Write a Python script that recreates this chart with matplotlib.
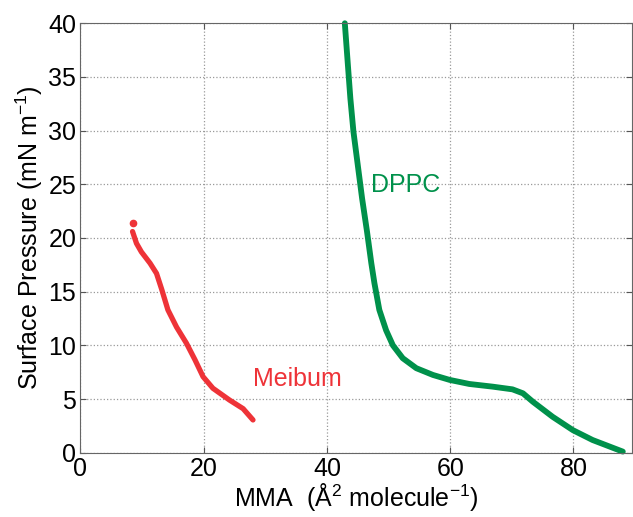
import matplotlib
matplotlib.use("Agg")
import matplotlib.pyplot as plt

plt.rcParams["font.family"] = ["Liberation Sans", "DejaVu Sans"]
plt.rcParams["mathtext.fontset"] = "custom"
plt.rcParams["mathtext.rm"] = "Liberation Sans"

# isotherm data
meibum_mma = [8.46, 9.1, 9.9, 11.3, 12.35, 13.2, 14.2, 15.6, 17.2, 18.6,
              19.9, 21.5, 24.2, 26.4, 28.0]
meibum_pi = [20.6, 19.5, 18.7, 17.65, 16.7, 15.2, 13.3, 11.7, 10.2, 8.64,
             7.08, 6.0, 4.9, 4.1, 3.05]
meibum_dot = (8.5, 21.4)

dppc_mma = [42.9, 43.4, 43.8, 44.3, 45.0, 45.7, 46.5, 47.2, 47.7, 48.5,
            49.6, 50.7, 52.3, 54.5, 57.2, 59.9, 63.1, 66.9, 70.1, 71.8,
            73.4, 76.6, 79.9, 83.1, 88.0]
dppc_pi = [40.0, 36.1, 33.0, 29.9, 26.8, 23.7, 20.6, 17.65, 15.8, 13.3,
           11.4, 10.0, 8.8, 7.87, 7.24, 6.78, 6.4, 6.15, 5.9, 5.53,
           4.75, 3.35, 2.1, 1.18, 0.1]

red = "#ee3338"
green = "#00914b"

fig = plt.figure(figsize=(6.33, 5.17), dpi=100)
ax = fig.add_axes([0.127, 0.1244, 0.8715, 0.8306])

ax.plot(meibum_mma, meibum_pi, color=red, lw=3.8, solid_capstyle="round",
        solid_joinstyle="round")
ax.plot([meibum_dot[0]], [meibum_dot[1]], "o", color=red, ms=4.5)
ax.plot(dppc_mma, dppc_pi, color=green, lw=4.2, solid_capstyle="round",
        solid_joinstyle="round", clip_on=False)

ax.text(47.2, 24.9, "DPPC", color=green, fontsize=18, va="center")
ax.text(28.0, 6.9, "Meibum", color=red, fontsize=18, va="center")

ax.set_xlim(0, 89.5)
ax.set_ylim(0, 40)
ax.set_xticks([0, 20, 40, 60, 80])
ax.set_yticks(range(0, 41, 5))
ax.grid(True, linestyle=":", color="#999999", lw=0.9)
ax.tick_params(direction="in", top=True, right=True, labelsize=18, length=4,
               color="#555555", pad=3)
for s in ax.spines.values():
    s.set_color("#666666")

ax.set_xlabel("MMA  (Å$^{2}$ molecule$^{-1}$)", fontsize=18, labelpad=0)
ax.set_ylabel("Surface Pressure (mN m$^{-1}$)", fontsize=18, labelpad=2)

fig.savefig("out.png", dpi=100)
